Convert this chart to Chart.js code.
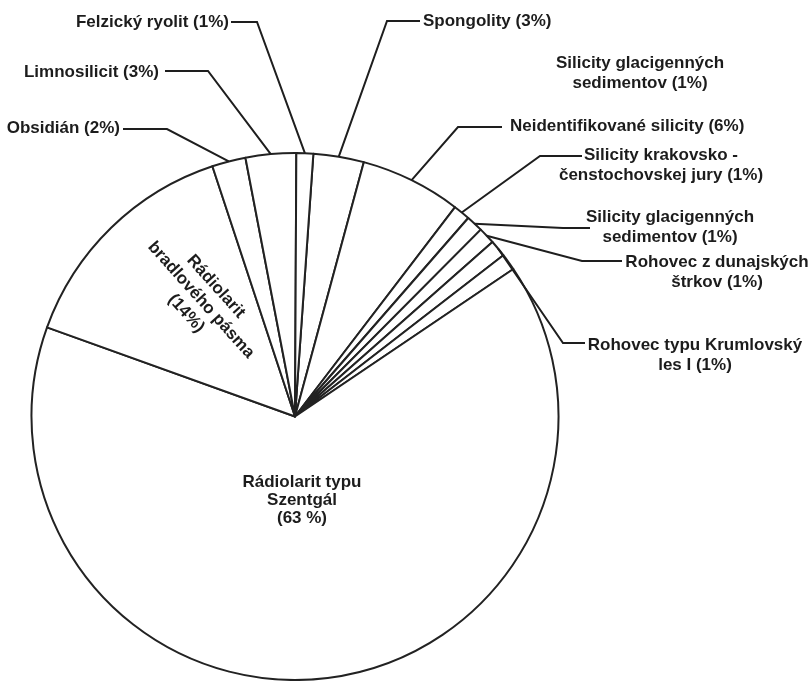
<!DOCTYPE html>
<html>
<head>
<meta charset="utf-8">
<script src="https://cdn.jsdelivr.net/npm/chart.js@4/dist/chart.umd.min.js"></script>
<style>
  html, body { margin: 0; padding: 0; background: #ffffff; }
  #wrap { width: 812px; height: 681px; position: relative; }
</style>
</head>
<body>
<div id="wrap"><canvas id="c"></canvas></div>
<script>
// Raw material categories (label lines), clockwise from the top
const categories = [
  ['Spongolity'],
  ['Neidentifikované silicity'],
  ['Silicity krakovsko -', 'čenstochovskej jury'],
  ['Silicity glacigenných', 'sedimentov'],
  ['Rohovec z dunajských', 'štrkov'],
  ['Rohovec typu Krumlovský', 'les I'],
  ['Silicity glacigenných', 'sedimentov'],
  ['Rádiolarit typu', 'Szentgál'],
  ['Rádiolarit', 'bradlového pásma'],
  ['Obsidián'],
  ['Limnosilicit'],
  ['Felzický ryolit']
];

// Share of each raw material, in percent
const shares = [3, 6, 1, 1, 1, 1, 1, 63, 14, 2, 3, 1];

// Where each label sits and how its leader line bends
const callouts = [
  { elbow: [387, 21],  bar: 420, x: 423, y: 21,  align: 'left' },
  { elbow: [458, 127], bar: 502, x: 510, y: 126, align: 'left' },
  { elbow: [540, 156], bar: 582, x: 661, y: 155, align: 'center' },
  { elbow: [563, 228], bar: 590, x: 670, y: 217, align: 'center' },
  { elbow: [582, 261], bar: 622, x: 717, y: 262, align: 'center' },
  { elbow: [563, 343], bar: 585, x: 695, y: 345, align: 'center' },
  { x: 640, y: 63, align: 'center' },
  { x: 302, y: 482, align: 'center', pctLine: true, pctSpace: true, lineGap: 18 },
  { x: 201, y: 300, rotate: 48, align: 'center', pctLine: true, middle: true },
  { elbow: [167, 129], bar: 123, x: 120, y: 128, align: 'right' },
  { elbow: [208, 71],  bar: 165, x: 159, y: 72,  align: 'right' },
  { elbow: [257, 22],  bar: 231, x: 229, y: 22,  align: 'right' }
];

const calloutPlugin = {
  id: 'callouts',
  afterDatasetsDraw(chart) {
    const ctx = chart.ctx;
    const arcs = chart.getDatasetMeta(0).data;
    ctx.save();
    ctx.strokeStyle = '#1e1e1e';
    ctx.lineWidth = 2;
    callouts.forEach((c, i) => {
      if (!c.elbow) return;
      const a = arcs[i].getProps(['x', 'y', 'startAngle', 'endAngle', 'outerRadius'], true);
      const mid = (a.startAngle + a.endAngle) / 2;
      const px = a.x + Math.cos(mid) * a.outerRadius;
      const py = a.y + Math.sin(mid) * a.outerRadius;
      ctx.beginPath();
      ctx.moveTo(px, py);
      ctx.lineTo(c.elbow[0], c.elbow[1]);
      ctx.lineTo(c.bar, c.elbow[1]);
      ctx.stroke();
    });

    ctx.fillStyle = '#1c1c1c';
    ctx.font = 'bold 17px "Liberation Sans", Arial, sans-serif';
    ctx.textBaseline = 'middle';
    categories.forEach((name, i) => {
      const c = callouts[i];
      const pct = '(' + shares[i] + (c.pctSpace ? ' %' : '%') + ')';
      const lines = name.slice();
      if (c.pctLine) lines.push(pct);
      else lines[lines.length - 1] += ' ' + pct;
      const gap = c.lineGap || 20;
      ctx.save();
      ctx.translate(c.x, c.y);
      if (c.rotate) ctx.rotate(c.rotate * Math.PI / 180);
      ctx.textAlign = c.align;
      const y0 = c.middle ? -(lines.length - 1) * gap / 2 : 0;
      lines.forEach((t, k) => ctx.fillText(t, 0, y0 + k * gap));
      ctx.restore();
    });
    ctx.restore();
  }
};

new Chart(document.getElementById('c'), {
  type: 'pie',
  data: {
    labels: categories.map(n => n.join(' ')),
    datasets: [{
      data: shares,
      backgroundColor: '#ffffff',
      borderColor: '#222222',
      borderWidth: 2,
      borderJoinStyle: 'round'
    }]
  },
  options: {
    responsive: true,
    maintainAspectRatio: false,
    animation: false,
    events: [],
    rotation: 4,
    layout: { padding: { left: 29, right: 251, top: 152, bottom: -4 } },
    plugins: { legend: { display: false }, tooltip: { enabled: false } }
  },
  plugins: [calloutPlugin]
});
</script>
</body>
</html>
